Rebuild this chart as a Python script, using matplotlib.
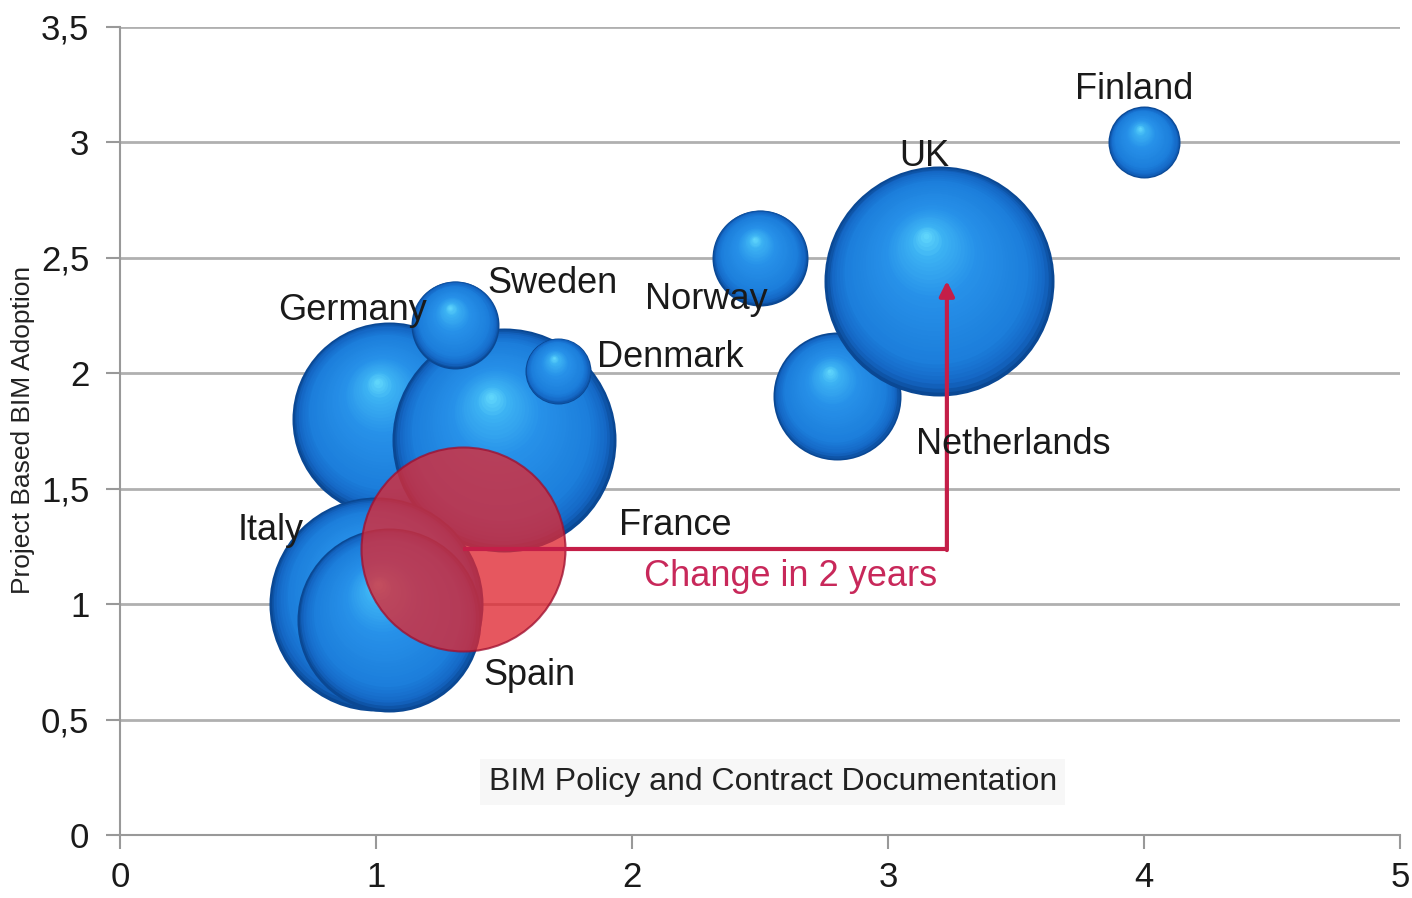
import numpy as np
import matplotlib
matplotlib.use('Agg')
import matplotlib.pyplot as plt
from matplotlib.colors import LinearSegmentedColormap

plt.rcParams['font.family'] = ['Liberation Sans', 'DejaVu Sans']

# bubble data (x, y, bubble radius in px)
countries = ['Germany', 'France', 'Sweden', 'Denmark', 'Italy', 'Spain',
             'Norway', 'Netherlands', 'UK', 'Finland']
x_vals = [1.05, 1.5, 1.31, 1.71, 1.0, 1.05, 2.5, 2.8, 3.2, 4.0]
y_vals = [1.8, 1.71, 2.21, 2.01, 1.0, 0.93, 2.5, 1.9, 2.4, 3.0]
bubble = [97, 112, 44, 33, 107, 92, 48, 64, 115, 36]

# label positions
lab_x = [0.91, 2.17, 1.69, 2.15, 0.59, 1.6, 2.29, 3.49, 3.14, 3.96]
lab_y = [2.27, 1.34, 2.39, 2.07, 1.32, 0.69, 2.32, 1.69, 2.94, 3.23]

# change in 2 years
red_x, red_y, red_size = 1.34, 1.24, 102
target_x, target_y = 3.23, 2.40

yticks = [0, 0.5, 1, 1.5, 2, 2.5, 3, 3.5]
ytick_labels = ['0', '0,5', '1', '1,5', '2', '2,5', '3', '3,5']
xticks = [0, 1, 2, 3, 4, 5]

fig = plt.figure(figsize=(14.12, 8.98), dpi=100)
ax = fig.add_axes([0.085, 0.0702, 0.9065, 0.8998])
ax.set_xlim(0, 5)
ax.set_ylim(0, 3.5)

# px per data unit, to place the sphere highlight
W = fig.get_figwidth() * fig.dpi * 0.9065
H = fig.get_figheight() * fig.dpi * 0.8998
px_x = W / 5.0
px_y = H / 3.5

cmap = LinearSegmentedColormap.from_list(
    'sphere', [(0.0, '#0a4894'), (0.06, '#1466c4'), (0.2, '#1c7edb'),
               (0.6, '#2791e9'), (0.85, '#3cb2f3'), (1.0, '#66dcfd')])

def sphere(x, y, r, z):
    n = 40
    for k in range(n):
        t = k / n
        rr = r * (1 - t)
        cx = x - 0.12 * r * t / px_x
        cy = y + 0.40 * r * t / px_y
        s = (2 * rr * 72 / fig.dpi) ** 2
        ax.scatter([cx], [cy], s=s, color=cmap(t), linewidths=0,
                   zorder=z + t * 0.01)

for i in range(len(countries)):
    sphere(x_vals[i], y_vals[i], bubble[i], 3 + i * 0.1)

# red bubble
s_red = (2 * red_size * 72 / fig.dpi) ** 2
ax.scatter([red_x], [red_y], s=s_red, color='#e02832', alpha=0.78,
           edgecolors='#a01030', linewidths=1.5, zorder=6)

# arrow
ax.plot([red_x, target_x], [red_y, red_y], color='#c41e48', lw=3,
        zorder=7, solid_capstyle='butt')
ax.annotate('', xy=(target_x, target_y), xytext=(target_x, red_y - 0.006),
            arrowprops=dict(arrowstyle='-|>', color='#c41e48', lw=3,
                            mutation_scale=22, shrinkA=0, shrinkB=0),
            zorder=7)
ax.text(2.62, 1.12, 'Change in 2 years', color='#c8285a', fontsize=26,
        ha='center', va='center', zorder=8)

for i in range(len(countries)):
    ax.text(lab_x[i], lab_y[i], countries[i], fontsize=26, color='#1a1a1a',
            ha='center', va='center', zorder=8)

ax.text(2.55, 0.23, 'BIM Policy and Contract Documentation', fontsize=23,
        color='#222222', ha='center', va='center', zorder=8,
        bbox=dict(facecolor='#f7f7f7', edgecolor='none', pad=6))

fig.text(0.016, 0.521, 'Project Based BIM Adoption', rotation=90,
         fontsize=19, color='#222222', ha='center', va='center')

ax.set_yticks(yticks)
ax.set_yticklabels(ytick_labels)
ax.set_xticks(xticks)
ax.tick_params(axis='both', labelsize=25, colors='#999999', labelcolor='#1a1a1a',
               length=10, width=1.5)
ax.tick_params(axis='y', pad=12)
ax.tick_params(axis='x', pad=9)
ax.grid(axis='y', color='#b0b0b0', lw=2)
ax.set_axisbelow(True)
for side in ['top', 'right']:
    ax.spines[side].set_visible(False)
for side in ['left', 'bottom']:
    ax.spines[side].set_color('#999999')
    ax.spines[side].set_linewidth(1.5)

plt.savefig('out.png', dpi=100)
